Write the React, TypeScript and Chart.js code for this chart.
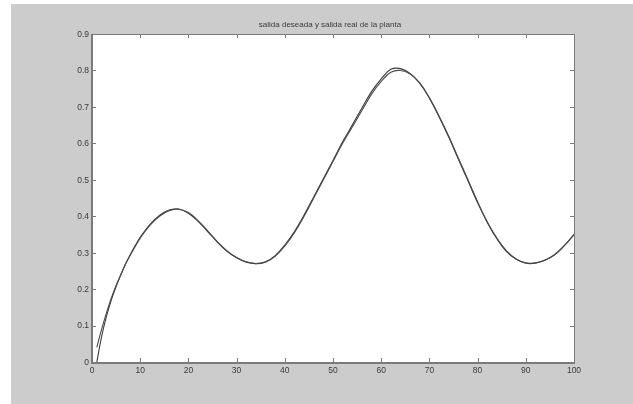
import React, { useEffect, useRef } from "react";
import { Chart, registerables } from "chart.js";

Chart.register(...registerables);

const titleText = "salida deseada y salida real de la planta";
const xValues = [1,2,3,4,5,6,7,8,9,10,12,14,16,18,20,22,24,26,28,30,32,34,36,38,40,42,44,46,48,50,52,54,56,58,60,62,64,66,68,70,72,74,76,78,80,82,84,86,88,90,92,94,96,98,100];
const desired = [0.04,0.09,0.135,0.175,0.21,0.24,0.27,0.295,0.318,0.34,0.375,0.40,0.415,0.42,0.41,0.388,0.36,0.33,0.305,0.287,0.275,0.27,0.274,0.29,0.318,0.355,0.40,0.45,0.50,0.55,0.60,0.645,0.69,0.735,0.77,0.795,0.80,0.79,0.765,0.725,0.675,0.62,0.56,0.50,0.44,0.385,0.34,0.305,0.283,0.272,0.272,0.28,0.295,0.32,0.35];
const real = [0.0,0.07,0.125,0.17,0.207,0.24,0.27,0.296,0.32,0.342,0.377,0.402,0.417,0.419,0.408,0.386,0.358,0.329,0.304,0.286,0.274,0.27,0.275,0.292,0.321,0.358,0.403,0.453,0.503,0.553,0.604,0.65,0.697,0.742,0.777,0.803,0.805,0.792,0.765,0.724,0.673,0.617,0.557,0.497,0.437,0.383,0.338,0.303,0.282,0.271,0.271,0.279,0.294,0.319,0.349];
const xTicks = [0,10,20,30,40,50,60,70,80,90,100];
const yTicks = [0,0.1,0.2,0.3,0.4,0.5,0.6,0.7,0.8,0.9];

const FONT = "'Liberation Sans', Arial, sans-serif";

const boxPlugin = {
  id: "matlabBox",
  afterDraw(chart: any) {
    const ctx = chart.ctx;
    const { left, right, top, bottom } = chart.chartArea;
    const xs = chart.scales.x;
    const ys = chart.scales.y;
    ctx.save();
    ctx.strokeStyle = "#7a7a7a";
    ctx.lineWidth = 1;
    const tl = 4;
    xTicks.forEach((v) => {
      const px = Math.round(xs.getPixelForValue(v)) + 0.5;
      ctx.beginPath();
      ctx.moveTo(px, bottom); ctx.lineTo(px, bottom - tl);
      ctx.moveTo(px, top); ctx.lineTo(px, top + tl);
      ctx.stroke();
    });
    yTicks.forEach((v) => {
      const py = Math.round(ys.getPixelForValue(v)) + 0.5;
      ctx.beginPath();
      ctx.moveTo(left, py); ctx.lineTo(left + tl, py);
      ctx.moveTo(right, py); ctx.lineTo(right - tl, py);
      ctx.stroke();
    });
    ctx.lineWidth = 1;
    ctx.strokeRect(Math.round(left) + 0.5, Math.round(top) + 0.5, Math.round(right - left), Math.round(bottom - top));
    ctx.lineWidth = 2;
    ctx.beginPath();
    ctx.moveTo(Math.round(left), Math.round(top));
    ctx.lineTo(Math.round(left), Math.round(bottom) + 1);
    ctx.lineTo(Math.round(right) + 1, Math.round(bottom) + 1);
    ctx.stroke();
    ctx.fillStyle = "#3a3a3a";
    ctx.font = "8.5px " + FONT;
    ctx.textAlign = "right";
    ctx.textBaseline = "middle";
    yTicks.forEach((v) => {
      const py = ys.getPixelForValue(v);
      ctx.fillText(v === 0 ? "0" : v.toFixed(1), left - 3, py + 0.5);
    });
    ctx.textAlign = "center";
    ctx.textBaseline = "top";
    xTicks.forEach((v) => {
      ctx.fillText(String(v), xs.getPixelForValue(v), bottom + 4);
    });
    ctx.font = "8px " + FONT;
    ctx.textBaseline = "middle";
    ctx.fillText(titleText, (left + right) / 2 - 3, top - 9);
    ctx.restore();
  },
  beforeDatasetsDraw(chart: any) {
    const ctx = chart.ctx;
    const { left, right, top, bottom } = chart.chartArea;
    ctx.save();
    ctx.fillStyle = "#ffffff";
    ctx.fillRect(left, top, right - left, bottom - top);
    ctx.restore();
  },
};

export default function App() {
  const ref = useRef<HTMLCanvasElement | null>(null);
  useEffect(() => {
    if (!ref.current) return;
    const mk = (vals: number[]) => xValues.map((x, i) => ({ x, y: vals[i] }));
    const chart = new Chart(ref.current, {
      type: "line",
      data: {
        datasets: [
          { label: "deseada", data: mk(desired), borderColor: "#4a4a4a", borderWidth: 1.1, pointRadius: 0, tension: 0.4, fill: false },
          { label: "real", data: mk(real), borderColor: "#3a3a3a", borderWidth: 1.1, pointRadius: 0, tension: 0.4, fill: false },
        ],
      },
      options: {
        responsive: false,
        animation: false,
        layout: { padding: { left: 0, top: 34, right: 59, bottom: 0 } },
        plugins: { legend: { display: false }, tooltip: { enabled: false }, title: { display: false } },
        scales: {
          x: {
            type: "linear", min: 0, max: 100,
            grid: { display: false, drawTicks: false },
            border: { display: false },
            ticks: { display: false, stepSize: 10 },
            afterFit: (s: any) => { s.height = 42; },
          },
          y: {
            type: "linear", min: 0, max: 0.9,
            grid: { display: false, drawTicks: false },
            border: { display: false },
            ticks: { display: false, stepSize: 0.1 },
            afterFit: (s: any) => { s.width = 92; },
          },
        },
      },
      plugins: [boxPlugin],
    } as any);
    return () => chart.destroy();
  }, []);
  return (
    <div style={{ position: "fixed", left: 0, top: 0, width: 633, height: 404, background: "#ffffff" }}>
      <div style={{ position: "absolute", left: 11, top: 4, right: 0, bottom: 0, background: "#cccccc" }} />
      <canvas ref={ref} width={633} height={404} style={{ position: "absolute", left: 0, top: 0, width: 633, height: 404 }} />
    </div>
  );
}
